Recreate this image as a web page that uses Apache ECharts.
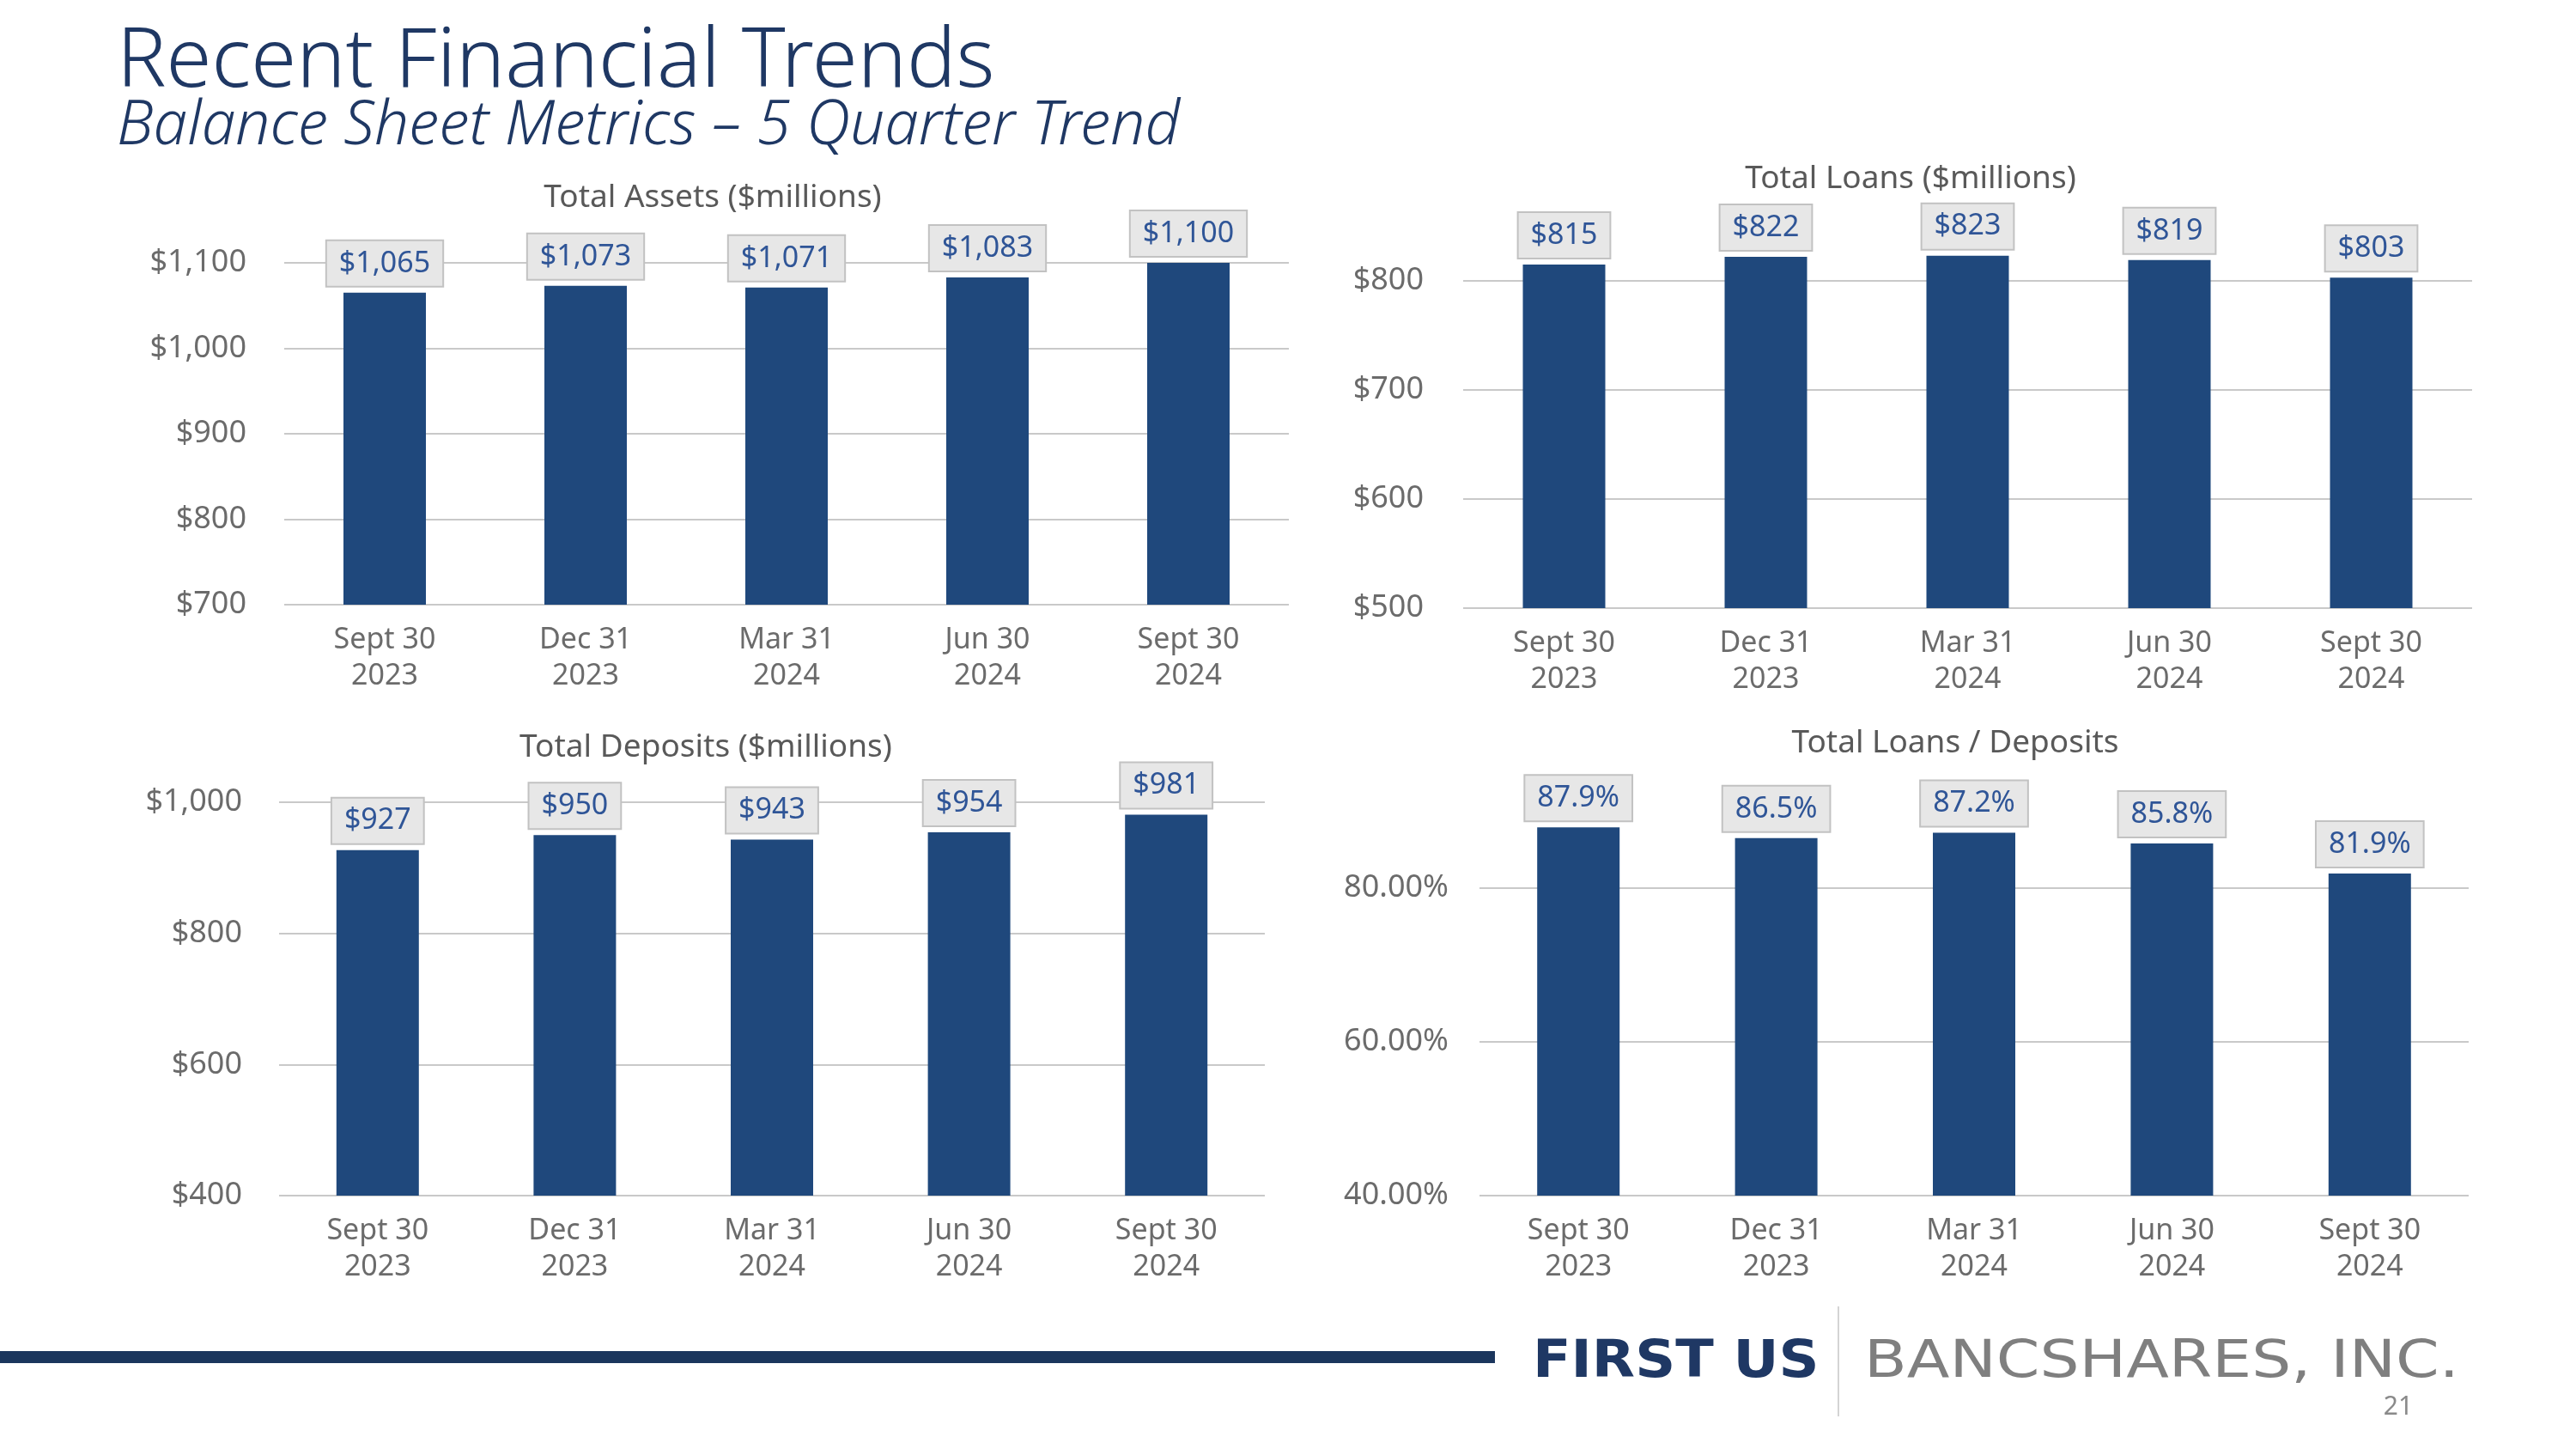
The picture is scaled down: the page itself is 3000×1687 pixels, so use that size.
<!DOCTYPE html>
<html>
<head>
<meta charset="utf-8">
<script src="https://cdn.jsdelivr.net/npm/echarts@6/dist/echarts.min.js"></script>
<style>
  html, body { margin: 0; padding: 0; background: #fff; }
  #main { width: 3000px; height: 1687px; }
</style>
</head>
<body>
<div id="main"></div>
<script>
// quarters shown on every panel
const quarters = ['Sept 30\n2023', 'Dec 31\n2023', 'Mar 31\n2024', 'Jun 30\n2024', 'Sept 30\n2024']

// balance sheet values ($ millions) and loan/deposit ratio (%)
const totalAssets = [1065, 1073, 1071, 1083, 1100]
const totalLoans = [815, 822, 823, 819, 803]
const totalDeposits = [927, 950, 943, 954, 981]
const loansToDeposits = [87.9, 86.5, 87.2, 85.8, 81.9]

const font = 'Noto Sans'
const barColor = '#1f487c'
const gridColor = '#c9c9c9'
const axisText = '#6b6b6b'

function money (v) {
  return '$' + v.toLocaleString('en-US')
}
function pct2 (v) {
  return v.toFixed(2) + '%'
}
function pct1 (v) {
  return v.toFixed(1) + '%'
}

// one panel = grid + axes + series
const panels = [
  { grid: { left: 331, top: 306, width: 1170, height: 398 }, min: 700, max: 1100, interval: 100, data: totalAssets, yFmt: money, lFmt: money, yMargin: 44 },
  { grid: { left: 1704, top: 327, width: 1175, height: 381 }, min: 500, max: 800, interval: 100, data: totalLoans, yFmt: money, lFmt: money, yMargin: 46 },
  { grid: { left: 325, top: 934, width: 1148, height: 458 }, min: 400, max: 1000, interval: 200, data: totalDeposits, yFmt: money, lFmt: money, yMargin: 43 },
  { grid: { left: 1723, top: 1034, width: 1152, height: 358 }, min: 40, max: 80, interval: 20, data: loansToDeposits, yFmt: pct2, lFmt: pct1, yMargin: 36 }
]

// bars start at the axis minimum (not zero): an invisible base up to min,
// then the visible part stacked on it, drawn past the top gridline if needed
let series = []
panels.forEach((p, i) => {
  series.push({
    type: 'bar',
    xAxisIndex: i,
    yAxisIndex: i,
    stack: 'p' + i,
    data: p.data.map(() => p.min),
    barWidth: 96,
    silent: true,
    itemStyle: { color: 'transparent' }
  })
  series.push({
    type: 'bar',
    xAxisIndex: i,
    yAxisIndex: i,
    stack: 'p' + i,
    data: p.data.map(v => +(v - p.min).toFixed(2)),
    barWidth: 96,
    clip: false,
    itemStyle: { color: barColor },
    label: {
      show: true,
      position: 'top',
      distance: 8,
      formatter: params => p.lFmt(p.data[params.dataIndex]),
      color: '#2f5597',
      fontFamily: font,
      fontSize: 34,
      lineHeight: 40,
      backgroundColor: '#e7e7e7',
      borderColor: '#c2c2c2',
      borderWidth: 2,
      padding: [6, 14]
    }
  })
})

let chartDom = document.getElementById('main')
let myChart = echarts.init(chartDom)
let option

option = {
  animation: false,
  textStyle: { fontFamily: font },
  grid: panels.map(p => Object.assign({ containLabel: false }, p.grid)),
  xAxis: panels.map((p, i) => ({
    type: 'category',
    gridIndex: i,
    data: quarters,
    axisLine: { show: false },
    axisTick: { show: false },
    axisLabel: {
      color: axisText,
      fontFamily: font,
      fontSize: 34,
      lineHeight: 42,
      margin: 20
    }
  })),
  yAxis: panels.map((p, i) => ({
    type: 'value',
    gridIndex: i,
    min: p.min,
    max: p.max,
    interval: p.interval,
    axisLine: { show: false },
    axisTick: { show: false },
    splitLine: { lineStyle: { color: gridColor, width: 2 } },
    axisLabel: {
      color: axisText,
      fontFamily: font,
      fontSize: 36,
      margin: p.yMargin,
      formatter: p.yFmt
    }
  })),
  series: series,
  graphic: [
    // slide heading
    { type: 'text', left: 136, top: 26, style: { text: 'Recent Financial Trends', fill: '#1f3864', font: '300 96px "' + font + '"' } },
    { type: 'text', left: 136, top: 112, style: { text: 'Balance Sheet Metrics \u2013 5 Quarter Trend', fill: '#1f3864', font: 'italic 300 71px "' + font + '"' } },
    // panel titles
    { type: 'text', x: 830, y: 230, style: { text: 'Total Assets ($millions)', fill: '#595959', font: '37px "' + font + '"', align: 'center', verticalAlign: 'middle' } },
    { type: 'text', x: 2225, y: 208, style: { text: 'Total Loans ($millions)', fill: '#595959', font: '37px "' + font + '"', align: 'center', verticalAlign: 'middle' } },
    { type: 'text', x: 822, y: 870, style: { text: 'Total Deposits ($millions)', fill: '#595959', font: '37px "' + font + '"', align: 'center', verticalAlign: 'middle' } },
    { type: 'text', x: 2277, y: 865, style: { text: 'Total Loans / Deposits', fill: '#595959', font: '37px "' + font + '"', align: 'center', verticalAlign: 'middle' } },
    // footer
    { type: 'rect', shape: { x: 0, y: 1573, width: 1741, height: 14 }, style: { fill: '#1b365d' } },
    { type: 'text', x: 1785, y: 1587, scaleX: 1.07, style: { text: 'FIRST US', fill: '#1f3864', font: 'bold 61px "DejaVu Sans"', verticalAlign: 'middle' } },
    { type: 'line', shape: { x1: 2141, y1: 1521, x2: 2141, y2: 1649 }, style: { stroke: '#d4d4d4', lineWidth: 2 } },
    { type: 'text', x: 2171, y: 1587, scaleX: 1.21, style: { text: 'BANCSHARES, INC.', fill: '#7f7f7f', font: '60px "DejaVu Sans"', verticalAlign: 'middle' } },
    { type: 'text', x: 2793, y: 1638, style: { text: '21', fill: '#8a8a8a', font: '30px "' + font + '"', align: 'center', verticalAlign: 'middle' } }
  ]
}

option && myChart.setOption(option)
</script>
</body>
</html>
